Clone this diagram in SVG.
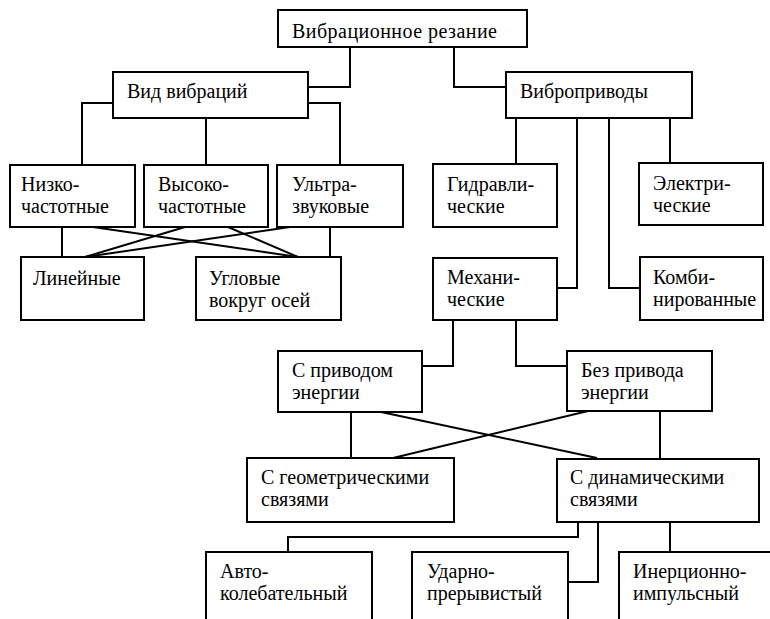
<svg xmlns="http://www.w3.org/2000/svg" width="770" height="619" viewBox="0 0 770 619">
<style>
.box{fill:#fff;stroke:#000;stroke-width:2}
.t{font-family:"Liberation Serif","Times New Roman","DejaVu Serif",serif;font-size:20px;fill:#000}
.c{fill:none;stroke:#000;stroke-width:2}
</style>
<rect width="770" height="619" fill="#fff"/>
<g id="connectors" class="c">
<polyline points="350,47 350,87 308,87"/>
<polyline points="454,47 454,87 506,87"/>
<polyline points="113,103 82,103 82,165"/>
<line x1="206" y1="118" x2="206" y2="165"/>
<polyline points="308,103 340,103 340,165"/>
<line x1="62" y1="227" x2="62" y2="257"/>
<line x1="93" y1="227" x2="298" y2="257"/>
<line x1="185" y1="227" x2="85" y2="257"/>
<line x1="228" y1="227" x2="298" y2="257"/>
<line x1="290" y1="227" x2="85" y2="257"/>
<line x1="330" y1="227" x2="330" y2="257"/>
<line x1="516" y1="118" x2="516" y2="164"/>
<polyline points="577,118 577,288 557,288"/>
<polyline points="609,118 609,288 640,288"/>
<line x1="670" y1="118" x2="670" y2="163"/>
<polyline points="453,320 453,366 422,366"/>
<polyline points="516,320 516,366 567,366"/>
<line x1="351" y1="412" x2="351" y2="458"/>
<line x1="381" y1="412" x2="597" y2="458"/>
<line x1="588" y1="411" x2="393" y2="458"/>
<line x1="660" y1="411" x2="660" y2="458"/>
<polyline points="578,522 578,537 288,537 288,552"/>
<polyline points="598,522 598,582 568,582"/>
<line x1="670" y1="522" x2="670" y2="552"/>
</g>
<g id="n-root"><rect class="box" x="278" y="10" width="249" height="37"/><text class="t" x="292" y="38" textLength="205">Вибрационное резание</text></g>
<g id="n-vid"><rect class="box" x="113" y="72" width="195" height="46"/><text class="t" x="127" y="98">Вид вибраций</text></g>
<g id="n-vibro"><rect class="box" x="506" y="72" width="186" height="46"/><text class="t" x="520" y="98">Виброприводы</text></g>
<g id="n-nizko"><rect class="box" x="10" y="165" width="125" height="62"/><text class="t" x="21" y="191">Низко-</text><text class="t" x="21" y="213">частотные</text></g>
<g id="n-vysoko"><rect class="box" x="144" y="165" width="124" height="62"/><text class="t" x="158" y="191">Высоко-</text><text class="t" x="158" y="213">частотные</text></g>
<g id="n-ultra"><rect class="box" x="277" y="165" width="126" height="62"/><text class="t" x="292" y="191">Ультра-</text><text class="t" x="292" y="213">звуковые</text></g>
<g id="n-lin"><rect class="box" x="21" y="257" width="123" height="63"/><text class="t" x="33" y="285">Линейные</text></g>
<g id="n-ugl"><rect class="box" x="196" y="257" width="145" height="63"/><text class="t" x="209" y="285">Угловые</text><text class="t" x="209" y="307">вокруг осей</text></g>
<g id="n-gidr"><rect class="box" x="433" y="164" width="124" height="63"/><text class="t" x="447" y="191">Гидравли-</text><text class="t" x="447" y="213">ческие</text></g>
<g id="n-elek"><rect class="box" x="639" y="163" width="124" height="62"/><text class="t" x="653" y="190">Электри-</text><text class="t" x="653" y="212">ческие</text></g>
<g id="n-mech"><rect class="box" x="433" y="258" width="124" height="62"/><text class="t" x="447" y="284">Механи-</text><text class="t" x="447" y="306">ческие</text></g>
<g id="n-komb"><rect class="box" x="640" y="257" width="123" height="63"/><text class="t" x="653" y="284">Комби-</text><text class="t" x="653" y="306">нированные</text></g>
<g id="n-spriv"><rect class="box" x="278" y="351" width="144" height="61"/><text class="t" x="292" y="377">С приводом</text><text class="t" x="292" y="399">энергии</text></g>
<g id="n-bpriv"><rect class="box" x="567" y="351" width="145" height="60"/><text class="t" x="581" y="377">Без привода</text><text class="t" x="581" y="399">энергии</text></g>
<g id="n-geom"><rect class="box" x="247" y="458" width="207" height="64"/><text class="t" x="261" y="484">С геометрическими</text><text class="t" x="261" y="506">связями</text></g>
<g id="n-din"><rect class="box" x="557" y="459" width="202" height="63"/><text class="t" x="570" y="484">С динамическими</text><text class="t" x="570" y="506">связями</text></g>
<g id="n-avto"><rect class="box" x="206" y="552" width="166" height="80"/><text class="t" x="220" y="578">Авто-</text><text class="t" x="220" y="600">колебательный</text></g>
<g id="n-udar"><rect class="box" x="412" y="552" width="156" height="80"/><text class="t" x="427" y="578">Ударно-</text><text class="t" x="427" y="600">прерывистый</text></g>
<g id="n-iner"><rect class="box" x="619" y="552" width="160" height="80"/><text class="t" x="633" y="578">Инерционно-</text><text class="t" x="633" y="600">импульсный</text></g>
</svg>
